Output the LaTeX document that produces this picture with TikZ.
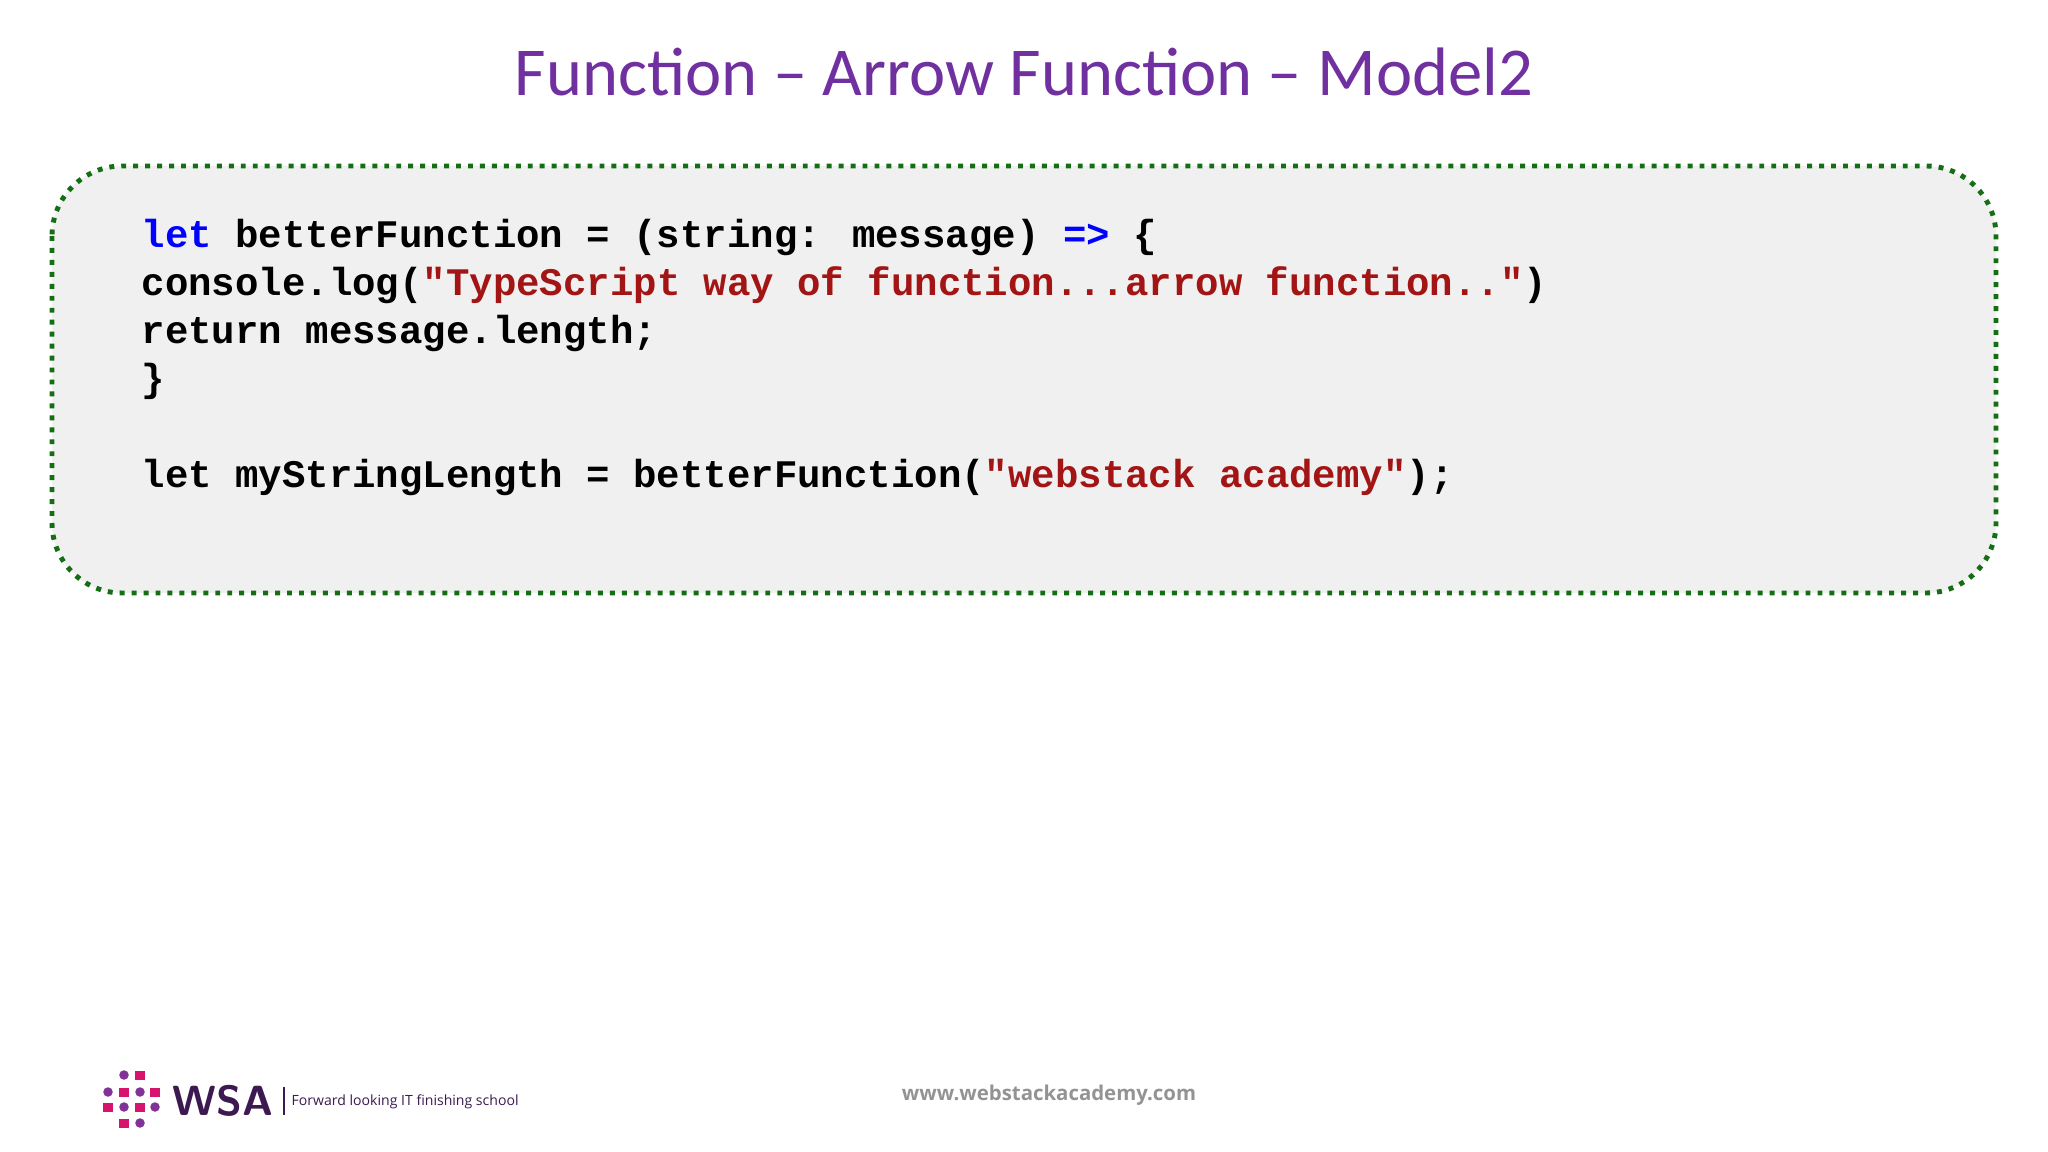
\documentclass[tikz,border=0pt]{standalone}
\usepackage{fontspec}
\setmainfont{Carlito}
\newfontfamily\codefont{Liberation Mono}
\newfontfamily\tagfont{Open Sans}
\definecolor{ttl}{RGB}{112,48,160}
\definecolor{kw}{RGB}{0,0,255}
\definecolor{str}{RGB}{163,21,21}
\definecolor{bord}{RGB}{20,110,20}
\definecolor{boxfill}{RGB}{240,240,240}
\definecolor{lpink}{RGB}{214,20,110}
\definecolor{lpurp}{RGB}{130,50,150}
\definecolor{ldark}{RGB}{60,25,80}
\tikzset{codeline/.style={anchor=base west,inner sep=0,font=\codefont\fontsize{11.1}{13}\selectfont\bfseries},
 dotc/.style={fill=lpurp,draw=none,circle,minimum size=0.095cm,inner sep=0},
 dots/.style={fill=lpink,draw=none,rectangle,minimum size=0.09cm,inner sep=0}}
\begin{document}
\begin{tikzpicture}[x=0.01cm,y=-0.01cm]
\useasboundingbox (0,0) rectangle (2048,1152);
\node[font=\fontsize{19.5}{24}\selectfont,text=ttl] (title) at (1024,72) {Function – Arrow Function – Model2};
\draw[bord,fill=boxfill,line width=1.4pt,dotted,rounded corners=0.7cm] (52,166) rectangle (1996,593);
\node[codeline] (l1) at (141,248) {\textcolor{kw}{let} betterFunction = (string: message) \textcolor{kw}{=>} \{};
\node[codeline] (l2) at (141,296) {console.log(\textcolor{str}{"TypeScript way of function...arrow function.."})};
\node[codeline] (l3) at (141,344) {return message.length;};
\node[codeline] (l4) at (141,392) {\}};
\node[codeline] (l5) at (141,488) {let myStringLength = betterFunction(\textcolor{str}{"webstack academy"});};
\node[font=\tagfont\fontsize{5.8}{7}\selectfont\bfseries,text=gray!85] (url) at (1049,1095) {www.webstackacademy.com};
\node[dotc] (d1) at (124,1075) {}; \node[dots] (d2) at (140,1075) {};
\node[dotc] (d3) at (108,1092) {}; \node[dots] (d4) at (124,1092) {};
\node[dotc] (d5) at (140,1092) {}; \node[dots] (d6) at (155,1092) {};
\node[dots] (d7) at (108,1107) {}; \node[dotc] (d8) at (124,1107) {};
\node[dots] (d9) at (140,1107) {}; \node[dotc] (d10) at (155,1107) {};
\node[dots] (d11) at (124,1123) {}; \node[dotc] (d12) at (140,1123) {};
\node[anchor=west,inner sep=0,font=\fontsize{12}{14}\selectfont\bfseries\sffamily,text=ldark] (wsa) at (172,1101) {WSA};
\draw[ldark,line width=0.5pt] (284,1087) -- (284,1115);
\node[anchor=west,inner sep=0,font=\tagfont\fontsize{4}{5}\selectfont,text=ldark] (tag) at (291,1102) {Forward looking IT finishing school};
\end{tikzpicture}
\end{document}
